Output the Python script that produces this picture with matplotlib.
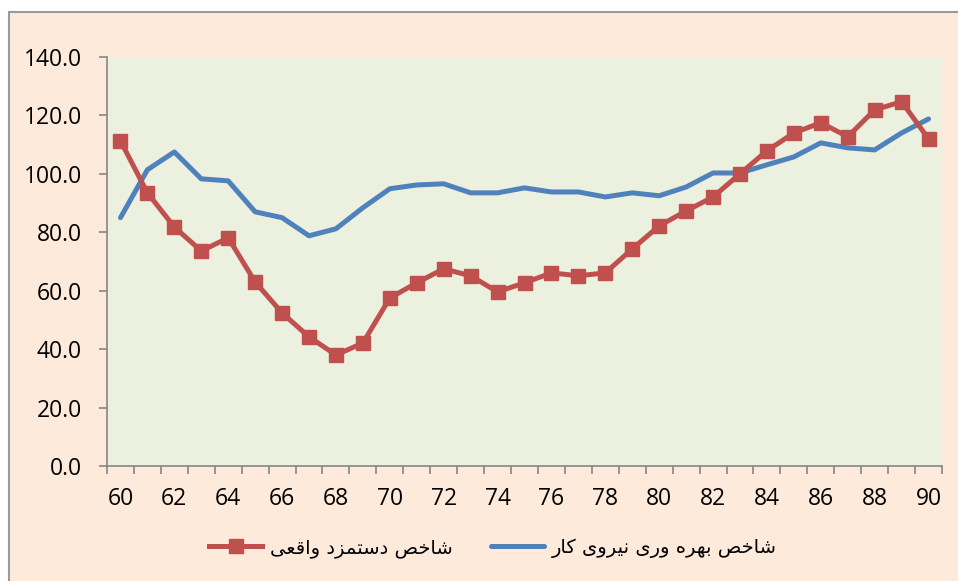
import matplotlib
matplotlib.use("Agg")
import matplotlib.pyplot as plt
from matplotlib.patches import Rectangle
from matplotlib.ticker import FixedLocator, NullFormatter, FixedFormatter

years = list(range(60, 91))
wage = [111.3, 93.5, 81.8, 73.6, 78.1, 63.0, 52.4, 44.2, 38.0, 42.1,
        57.5, 62.7, 67.5, 65.1, 59.6, 62.7, 66.1, 65.1, 66.1, 74.3,
        82.2, 87.3, 92.1, 100.0, 107.9, 114.0, 117.5, 112.7, 121.9, 124.7, 112.0]
productivity = [85.0, 101.4, 107.5, 98.3, 97.6, 87.0, 85.0, 78.8, 81.2, 88.4,
                94.9, 96.2, 96.6, 93.5, 93.5, 95.2, 93.8, 93.8, 92.1, 93.5,
                92.5, 95.5, 100.3, 100.3, 103.1, 105.8, 110.6, 108.9, 108.2, 114.0, 118.8]
label_wage = "شاخص دستمزد واقعی"
label_prod = "شاخص بهره وری نیروی کار"
ytick_vals = [0, 20, 40, 60, 80, 100, 120, 140]
xtick_labels = [str(y) for y in range(60, 91, 2)]

# Minimal Arabic/Persian shaping (presentation forms) + RTL reversal
FORMS = {
    '\u0627': ('\uFE8D', '\uFE8E', None, None),
    '\u0628': ('\uFE8F', '\uFE90', '\uFE91', '\uFE92'),
    '\u062A': ('\uFE95', '\uFE96', '\uFE97', '\uFE98'),
    '\u062E': ('\uFEA5', '\uFEA6', '\uFEA7', '\uFEA8'),
    '\u062F': ('\uFEA9', '\uFEAA', None, None),
    '\u0631': ('\uFEAD', '\uFEAE', None, None),
    '\u0632': ('\uFEAF', '\uFEB0', None, None),
    '\u0633': ('\uFEB1', '\uFEB2', '\uFEB3', '\uFEB4'),
    '\u0634': ('\uFEB5', '\uFEB6', '\uFEB7', '\uFEB8'),
    '\u0635': ('\uFEB9', '\uFEBA', '\uFEBB', '\uFEBC'),
    '\u0639': ('\uFEC9', '\uFECA', '\uFECB', '\uFECC'),
    '\u0642': ('\uFED5', '\uFED6', '\uFED7', '\uFED8'),
    '\u0645': ('\uFEE1', '\uFEE2', '\uFEE3', '\uFEE4'),
    '\u0646': ('\uFEE5', '\uFEE6', '\uFEE7', '\uFEE8'),
    '\u0647': ('\uFEE9', '\uFEEA', '\uFEEB', '\uFEEC'),
    '\u0648': ('\uFEED', '\uFEEE', None, None),
    '\u06CC': ('\uFBFC', '\uFBFD', '\uFBFE', '\uFBFF'),
    '\u06A9': ('\uFB8E', '\uFB8F', '\uFB90', '\uFB91'),
}

def shape(text):
    out = []
    n = len(text)
    for i, ch in enumerate(text):
        if ch not in FORMS:
            out.append(ch)
            continue
        prev = text[i - 1] if i > 0 else None
        nxt = text[i + 1] if i < n - 1 else None
        join_prev = prev in FORMS and FORMS[prev][2] is not None
        join_next = nxt in FORMS and FORMS[ch][2] is not None
        iso, fin, ini, med = FORMS[ch]
        if join_prev and join_next:
            out.append(med)
        elif join_prev:
            out.append(fin)
        elif join_next:
            out.append(ini)
        else:
            out.append(iso)
    return ''.join(out)[::-1]

plt.rcParams['font.family'] = ['Open Sans', 'DejaVu Sans']

W, H = 958, 581
fig = plt.figure(figsize=(W / 100, H / 100), dpi=100, facecolor='white')
# chart area background with gray border (left/top visible, rest cropped)
fig.patches.append(Rectangle((8.5 / W, -0.05), 1.1, 1 - 11.5 / H + 0.05, transform=fig.transFigure,
                             facecolor='#FDEADA', edgecolor='#9A9A9A', lw=1.5, zorder=-10))

ax = fig.add_axes([107 / W, 1 - 466 / H, 835 / W, 409 / H])
ax.set_zorder(1)
ax.set_facecolor('#EBF1DE')

ax.plot(years, productivity, color='#4F81BD', lw=3.6, solid_joinstyle='round',
        solid_capstyle='round', label=shape(label_prod), zorder=3)
ax.plot(years, wage, color='#C0504D', lw=3.6, marker='s', markersize=10,
        markerfacecolor='#C0504D', markeredgecolor='#C0504D', label=shape(label_wage), zorder=4)

ax.set_xlim(59.5, 90.5)
ax.set_ylim(0, 140)

for s in ['top', 'right']:
    ax.spines[s].set_visible(False)
for s in ['left', 'bottom']:
    ax.spines[s].set_color('#868686')
    ax.spines[s].set_linewidth(1.2)

ax.set_yticks(ytick_vals)
ax.set_yticklabels([f"{v:.1f}" for v in ytick_vals])
ax.tick_params(axis='y', length=6, width=1.2, color='#868686', labelsize=16.5, pad=12)

bounds = [y - 0.5 for y in years] + [years[-1] + 0.5]
ax.xaxis.set_major_locator(FixedLocator(bounds))
ax.xaxis.set_major_formatter(NullFormatter())
ax.xaxis.set_minor_locator(FixedLocator(list(range(60, 91, 2))))
ax.xaxis.set_minor_formatter(FixedFormatter(xtick_labels))
ax.tick_params(axis='x', which='major', length=6, width=1.2, color='#868686')
ax.tick_params(axis='x', which='minor', length=0, labelsize=16.5, pad=15)

handles, labels = ax.get_legend_handles_labels()
leg = fig.legend([handles[1], handles[0]], [labels[1], labels[0]], loc='center',
                 bbox_to_anchor=(493 / W, 1 - 548 / H), ncol=2, frameon=False,
                 prop={'family': ['DejaVu Sans'], 'size': 14}, handlelength=2.7,
                 columnspacing=2.0, handletextpad=0.4)
leg.set_zorder(2)

fig.savefig('out.png', dpi=100, facecolor=fig.get_facecolor())
